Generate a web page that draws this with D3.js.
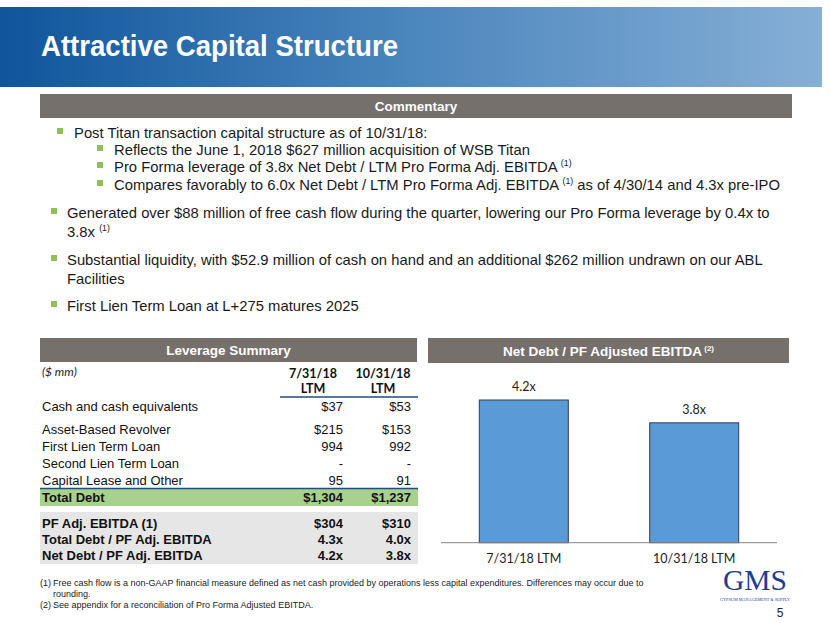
<!DOCTYPE html>
<html><head><meta charset="utf-8">
<script src="https://cdn.jsdelivr.net/npm/d3@7/dist/d3.min.js"></script>
<style>
html,body{margin:0;padding:0;background:#fff;}
svg{display:block;}
</style></head>
<body>
<svg id="c" width="830" height="623" font-family="'Liberation Sans', Arial, sans-serif"></svg>
<script>
// ---- Data ----
const title = "Attractive Capital Structure";
const categories = ["7/31/18 LTM", "10/31/18 LTM"];
const netLeverage = [4.2, 3.8];
const barLabels = ["4.2x", "3.8x"];
const chartTitle = "Net Debt / PF Adjusted EBITDA";
const colHeaders = [["7/31/18", "LTM"], ["10/31/18", "LTM"]];
const debtRows = ["Asset-Based Revolver", "First Lien Term Loan", "Second Lien Term Loan", "Capital Lease and Other"];
const debtCol1 = ["$215", "994", "-", "95"];
const debtCol2 = ["$153", "992", "-", "91"];
const cashRow = ["Cash and cash equivalents", "$37", "$53"];
const totalRow = ["Total Debt", "$1,304", "$1,237"];
const metricRows = ["PF Adj. EBITDA (1)", "Total Debt / PF Adj. EBITDA", "Net Debt / PF Adj. EBITDA"];
const metricCol1 = ["$304", "4.3x", "4.2x"];
const metricCol2 = ["$310", "4.0x", "3.8x"];
const bullets = [
  {lvl:0, y:138, parts:[["Post Titan transaction capital structure as of 10/31/18:"]]},
  {lvl:1, y:155, parts:[["Reflects the June 1, 2018 $627 million acquisition of WSB Titan"]]},
  {lvl:1, y:172, parts:[["Pro Forma leverage of 3.8x Net Debt / LTM Pro Forma Adj. EBITDA "],["(1)","sup"]]},
  {lvl:1, y:190, parts:[["Compares favorably to 6.0x Net Debt / LTM Pro Forma Adj. EBITDA "],["(1)","sup"],[" as of 4/30/14 and 4.3x pre-IPO"]]},
  {lvl:2, y:218, parts:[["Generated over $88 million of free cash flow during the quarter, lowering our Pro Forma leverage by 0.4x to"]], cont:[["3.8x "],["(1)","sup"]]},
  {lvl:2, y:265, parts:[["Substantial liquidity, with $52.9 million of cash on hand and an additional $262 million undrawn on our ABL"]], cont:[["Facilities"]]},
  {lvl:2, y:311, parts:[["First Lien Term Loan at L+275 matures 2025"]]}
];
const footnotes = [
  ["(1)", "Free cash flow is a non-GAAP financial measure defined as net cash provided by operations less capital expenditures. Differences may occur due to"],
  ["", "rounding."],
  ["(2)", "See appendix for a reconciliation of Pro Forma Adjusted EBITDA."]
];

const svg = d3.select("#c");
const calibri = "Lato, 'Open Sans', sans-serif";
const defs = svg.append("defs");
const grad = defs.append("linearGradient").attr("id","bn").attr("x1","0").attr("x2","1").attr("y1","0").attr("y2","0");
grad.append("stop").attr("offset","0").attr("stop-color","#0f559c");
grad.append("stop").attr("offset","0.5").attr("stop-color","#4b86bd");
grad.append("stop").attr("offset","1").attr("stop-color","#86afd6");

// Banner
svg.append("rect").attr("x",0).attr("y",7).attr("width",822).attr("height",80).attr("fill","url(#bn)");
svg.append("text").attr("x",41).attr("y",56).attr("fill","#fff").attr("font-size",29).attr("font-weight","bold")
  .attr("textLength",357).attr("lengthAdjust","spacingAndGlyphs").text(title);

const gray = "#76706c";
function headerBar(x, y, w, h, label, sup){
  svg.append("rect").attr("x",x).attr("y",y).attr("width",w).attr("height",h).attr("fill",gray);
  const t = svg.append("text").attr("x",x+w/2).attr("y",y+h/2+5).attr("text-anchor","middle")
    .attr("fill","#fff").attr("font-size",13.5).attr("font-weight","bold");
  t.append("tspan").text(label);
  if(sup){ t.append("tspan").attr("font-size",8).attr("dy",-5).text(" "+sup); }
}
headerBar(40, 94, 752, 24, "Commentary");

// Bullets
const green = "#8fbf5a";
bullets.forEach(b=>{
  const bx = b.lvl===1 ? 97 : (b.lvl===0 ? 57 : 51);
  const tx = b.lvl===1 ? 114 : (b.lvl===0 ? 74 : 67);
  svg.append("rect").attr("x",bx).attr("y",b.y-10).attr("width",6).attr("height",6).attr("fill",green);
  const draw = (parts, yy)=>{
    const t = svg.append("text").attr("transform",`translate(${tx},${yy}) scale(0.976,1)`)
      .attr("font-size",15.2).attr("fill","#1a1a1a");
    let prevSup = false;
    parts.forEach(p=>{
      if(p[1]==="sup"){ t.append("tspan").attr("font-size",9).attr("dy",-6).text(p[0]); prevSup = true; }
      else { t.append("tspan").attr("dy",prevSup?6:0).text(p[0]); prevSup = false; }
    });
  };
  draw(b.parts, b.y);
  if(b.cont) draw(b.cont, b.y+19);
});

// ---- Leverage Summary table ----
headerBar(40, 338, 377, 24, "Leverage Summary");
const c1 = 343, c2 = 411, lx = 42;
svg.append("text").attr("x",lx).attr("y",376).attr("font-size",12).attr("font-style","italic")
  .attr("font-family",calibri).attr("fill","#222").text("($ mm)");
colHeaders.forEach((h,i)=>{
  const cx = i===0 ? 313 : 383;
  h.forEach((s,j)=>{
    svg.append("text").attr("x",cx).attr("y",378+j*15).attr("text-anchor","middle").attr("font-size",12.5)
      .attr("font-weight","bold").attr("font-family",calibri).attr("fill","#111").text(s);
  });
});
svg.append("line").attr("x1",280).attr("x2",418).attr("y1",397).attr("y2",397).attr("stroke","#1f4e79").attr("stroke-width",1.5);

function row(y, label, v1, v2, bold){
  const g = svg.append("g").attr("font-size",13).attr("fill","#111").attr("font-weight",bold?"bold":"normal");
  g.append("text").attr("x",lx).attr("y",y).text(label);
  g.append("text").attr("x",c1).attr("y",y).attr("text-anchor","end").text(v1);
  g.append("text").attr("x",c2).attr("y",y).attr("text-anchor","end").text(v2);
}
row(411, cashRow[0], cashRow[1], cashRow[2]);
debtRows.forEach((r,i)=> row(434 + i*17, r, debtCol1[i], debtCol2[i]));
svg.append("rect").attr("x",40).attr("y",489).attr("width",378).attr("height",17).attr("fill","#a9d18e");
svg.append("line").attr("x1",40).attr("x2",418).attr("y1",488.5).attr("y2",488.5).attr("stroke","#1f4e79").attr("stroke-width",1.5);
row(502, totalRow[0], totalRow[1], totalRow[2], true);
svg.append("rect").attr("x",40).attr("y",512).attr("width",378).attr("height",52).attr("fill","#e7e6e6");
metricRows.forEach((r,i)=> row(528 + i*16, r, metricCol1[i], metricCol2[i], true));

// ---- Bar chart ----
headerBar(428, 338, 361, 25, chartTitle, "(2)");
const xb = d3.scaleBand().domain(categories).range([396, 822]).padding(0.5);
const y = d3.scaleLinear().domain([1.7, 4.2]).range([542.7, 400]);
const bw = 89;
const bars = svg.append("g");
bars.selectAll("rect").data(netLeverage).join("rect")
  .attr("x",(d,i)=>xb(categories[i]) + (xb.bandwidth()-bw)/2)
  .attr("width",bw)
  .attr("y",d=>y(d)).attr("height",d=>y.range()[0]-y(d))
  .attr("fill","#5b9bd5").attr("stroke","#2d3e50").attr("stroke-width",1);
bars.selectAll("text.v").data(barLabels).join("text").attr("class","v")
  .attr("x",(d,i)=>xb(categories[i])+xb.bandwidth()/2)
  .attr("y",(d,i)=>y(netLeverage[i])-9).attr("text-anchor","middle")
  .attr("font-family",calibri).attr("font-size",12.5).attr("fill","#222").text(d=>d);
const axis = d3.axisBottom(xb).tickSize(0).tickPadding(11);
const ag = svg.append("g").attr("transform",`translate(0,${y.range()[0]})`).call(axis);
ag.select(".domain").attr("d","M441,0H777").attr("stroke","#868686");
ag.selectAll("text").attr("font-family",calibri).attr("font-size",12.5).attr("fill","#222");

// Footnotes
footnotes.forEach((f,i)=>{
  const yy = 586 + i*11;
  svg.append("text").attr("x",40).attr("y",yy).attr("font-size",9).attr("fill","#222").text(f[0]);
  svg.append("text").attr("x",53).attr("y",yy).attr("font-size",9).attr("fill","#222").text(f[1]);
});

// Logo
svg.append("text").attr("x",755).attr("y",590).attr("text-anchor","middle").attr("font-family","'Liberation Serif', serif")
  .attr("font-size",29).attr("fill","#1f3f8c").attr("textLength",64).attr("lengthAdjust","spacingAndGlyphs").text("GMS");
svg.append("text").attr("x",755).attr("y",601).attr("text-anchor","middle").attr("font-family","'Liberation Serif', serif")
  .attr("font-size",4.5).attr("fill","#1f3f8c").attr("textLength",70).attr("lengthAdjust","spacingAndGlyphs").text("GYPSUM MANAGEMENT & SUPPLY");
svg.append("text").attr("x",780).attr("y",617).attr("text-anchor","middle").attr("font-size",12).attr("fill","#222").text("5");
</script>
</body></html>
